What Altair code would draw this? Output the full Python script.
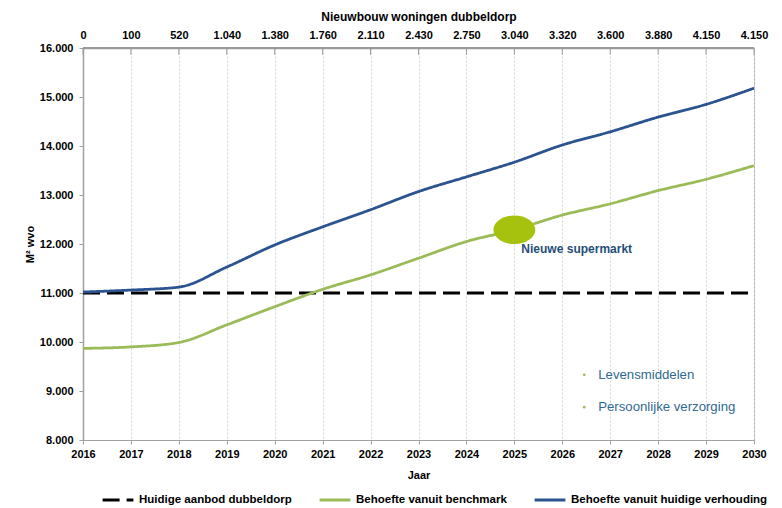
import altair as alt
import pandas as pd

years = [2016, 2017, 2018, 2019, 2020, 2021, 2022, 2023, 2024, 2025, 2026, 2027, 2028, 2029, 2030]
huidige = [11000, 11000, 11000, 11000, 11000, 11000, 11000, 11000, 11000, 11000, 11000, 11000, 11000, 11000, 11000]
benchmark = [9870, 9900, 9990, 10350, 10720, 11075, 11370, 11710, 12050, 12290, 12590, 12820, 13090, 13320, 13600]
verhouding = [11020, 11060, 11120, 11530, 11980, 12350, 12700, 13070, 13370, 13670, 14020, 14290, 14590, 14850, 15180]
woningen = ["0", "100", "520", "1.040", "1.380", "1.760", "2.110", "2.430", "2.750",
            "3.040", "3.320", "3.600", "3.880", "4.150", "4.150"]

series_names = ["Huidige aanbod dubbeldorp", "Behoefte vanuit benchmark", "Behoefte vanuit huidige verhouding"]
series_values = [huidige, benchmark, verhouding]
series_colors = ["#000000", "#9BBB59", "#2B5390"]

rows = []
for name, vals in zip(series_names, series_values):
    for y, v in zip(years, vals):
        rows.append({"year": y, "value": v, "series": name})
df = pd.DataFrame(rows)

annot_year = [2025]
annot_value = [12290]
annot_label = ["Nieuwe supermarkt"]
annot_df = pd.DataFrame({"year": annot_year, "value": annot_value, "label": annot_label})

inner_labels = ["Levensmiddelen", "Persoonlijke verzorging"]
inner_year = [2026.75, 2026.75]
inner_value = [9330, 8670]
inner_df = pd.DataFrame({"year": inner_year, "value": inner_value, "label": inner_labels})

y_min, y_max = 8000, 16000
top_df = pd.DataFrame({"year": years, "woningen": woningen, "top": [y_max] * len(years)})
top_line_df = pd.DataFrame({"x0": [years[0]], "x1": [years[-1]], "value": [y_max]})

FONT = "Liberation Sans"
xscale = alt.Scale(domain=[2016, 2030], nice=False, zero=False)
yscale = alt.Scale(domain=[y_min, y_max], nice=False, zero=False)

woningen_js = "[" + ",".join("'" + w + "'" for w in woningen) + "]"

bottom_axis = alt.Axis(
    title="Jaar", values=years, format="d", grid=True, gridColor="#D4D4D4", gridDash=[2, 2],
    domainColor="#A0A0A0", tickColor="#A0A0A0", tickSize=4, labelFontWeight="bold",
    labelFontSize=11, labelFont=FONT, labelColor="#000000", labelPadding=4,
    titleFont=FONT, titleFontSize=11, titleFontWeight="bold", titleColor="#000000", titlePadding=10,
    labelFlush=False,
)
top_axis = alt.Axis(
    orient="top", title="Nieuwbouw woningen dubbeldorp", values=years, grid=False,
    labelExpr=woningen_js + "[datum.value - 2016]",
    domain=True, domainColor="#9A9A9A", domainWidth=1.5, ticks=False,
    labelFontWeight="bold",
    labelFontSize=11, labelFont=FONT, labelColor="#000000", labelPadding=8,
    titleFont=FONT, titleFontSize=12, titleFontWeight="bold", titleColor="#000000", titlePadding=6,
    labelFlush=False,
)
y_axis = alt.Axis(
    title="M² wvo", values=list(range(8000, 16001, 1000)),
    labelExpr="replace(format(datum.value, ','), ',', '.')",
    grid=False, domainColor="#A0A0A0", domainWidth=1.5, tickColor="#A0A0A0", tickSize=4,
    labelFontWeight="bold", labelFontSize=11, labelFont=FONT, labelColor="#000000", labelPadding=6,
    titleFont=FONT, titleFontSize=11, titleFontWeight="bold", titleColor="#000000", titlePadding=4,
)


def enc_xy():
    return dict(
        x=alt.X("year:Q", scale=xscale, axis=None),
        y=alt.Y("value:Q", scale=yscale, axis=y_axis),
    )


lines = alt.Chart(df).mark_line(strokeWidth=2.8, interpolate="monotone").encode(
    x=alt.X("year:Q", scale=xscale, axis=bottom_axis),
    y=alt.Y("value:Q", scale=yscale, axis=y_axis),
    color=alt.Color(
        "series:N",
        scale=alt.Scale(domain=series_names, range=series_colors),
        legend=alt.Legend(
            title=None, orient="none", legendX=18, legendY=435, direction="horizontal", columns=3,
            columnPadding=21, symbolType="stroke", symbolSize=950, symbolStrokeWidth=3,
            labelFont=FONT, labelFontSize=11.5, labelFontWeight="bold", labelColor="#000000",
            labelLimit=300, symbolOffset=0, labelOffset=4,
        ),
    ),
    strokeDash=alt.StrokeDash(
        "series:N",
        scale=alt.Scale(domain=series_names, range=[[17, 7], [1, 0], [1, 0]]),
        legend=None,
    ),
    order=alt.Order("year:Q"),
)

top_layer = alt.Chart(top_df).mark_tick(opacity=0).encode(
    x=alt.X("year:Q", scale=xscale, axis=top_axis),
)

top_line = alt.Chart(top_line_df).mark_rule(color="#9A9A9A", strokeWidth=2).encode(
    x=alt.X("x0:Q", scale=xscale, axis=None),
    x2="x1:Q",
    y=alt.Y("value:Q", scale=yscale, axis=y_axis),
)

top_ticks = alt.Chart(top_df).mark_rule(color="#9A9A9A", strokeWidth=1).encode(
    x=alt.X("year:Q", scale=xscale, axis=None),
    y=alt.Y("top:Q", scale=yscale, axis=y_axis),
    y2="tick_end:Q",
).transform_calculate(tick_end="datum.top - 140")

ellipse = alt.Chart(annot_df).mark_point(
    shape="M -1 0 A 1 0.68 0 1 0 1 0 A 1 0.68 0 1 0 -1 0 Z",
    filled=True, size=1760, color="#A6C20E", opacity=1,
).encode(**enc_xy())

annot_text = alt.Chart(annot_df).mark_text(
    align="left", baseline="middle", dx=7, dy=19, font=FONT, fontSize=12,
    fontWeight="bold", color="#1F4E79",
).encode(text="label:N", **enc_xy())

inner_text = alt.Chart(inner_df).mark_text(
    align="left", baseline="middle", font=FONT, fontSize=13.2, color="#2F6A91",
).encode(text="label:N", **enc_xy())

inner_bullets = alt.Chart(inner_df).mark_point(
    filled=True, size=7, color="#9BBB59", opacity=1, xOffset=-14,
).encode(**enc_xy())

chart = alt.layer(
    lines, top_layer, top_line, top_ticks, ellipse, annot_text, inner_text, inner_bullets
).resolve_axis(
    x="independent"
).properties(
    width=671, height=392,
    autosize=alt.AutoSizeParams(type="none"),
    padding={"left": 83, "top": 48, "right": 28, "bottom": 68},
    background="white",
).configure_view(stroke="#B0B0B0", strokeWidth=1)

chart.save("out.html", embed_options={"renderer": "svg", "actions": False})
